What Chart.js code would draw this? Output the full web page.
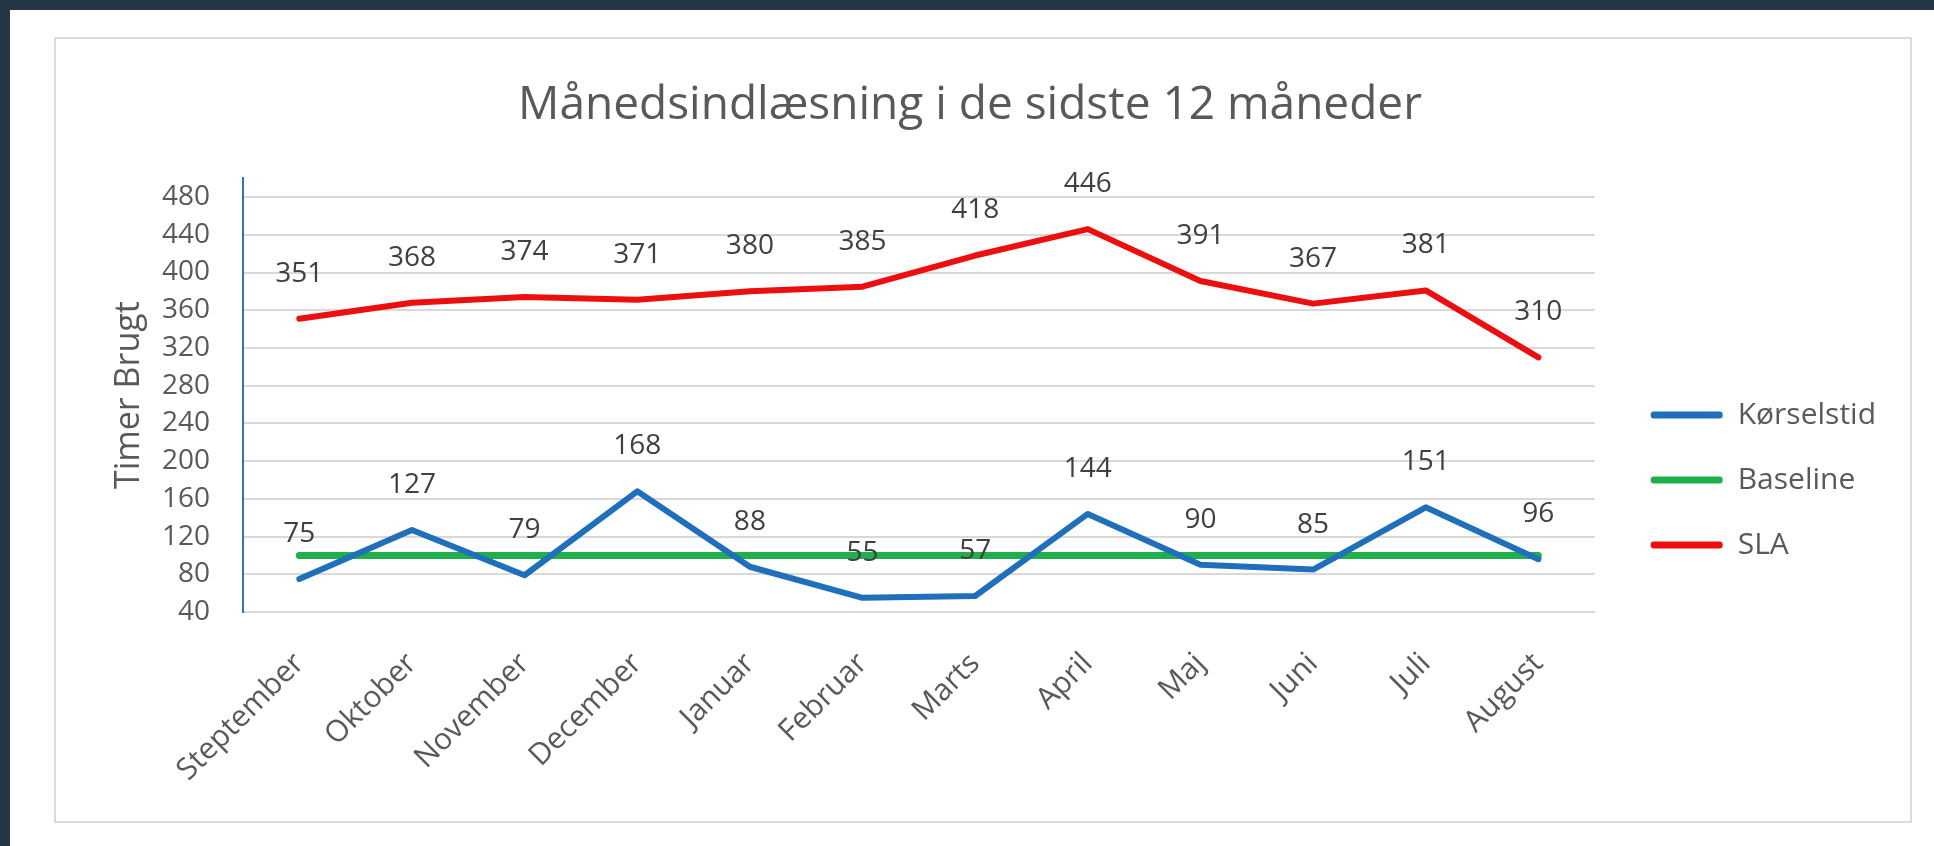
<!DOCTYPE html>
<html lang="da">
<head>
<meta charset="utf-8">
<title>Månedsindlæsning</title>
<script src="https://cdn.jsdelivr.net/npm/chart.js@4.4.1/dist/chart.umd.min.js"></script>
<style>
    html, body { margin: 0; padding: 0; }
    body { width: 1934px; height: 846px; background: #253646; position: relative; overflow: hidden; }
    #sheet { position: absolute; left: 10px; top: 10px; right: 0; bottom: 0; background: #fff; }
    #frame { position: absolute; left: 54px; top: 37px; width: 1858px; height: 786px; box-sizing: border-box; border: 2px solid #dadada; }
    #chartWrap { position: absolute; left: 54px; top: 37px; width: 1858px; height: 786px; }
</style>
</head>
<body>
<div id="sheet"></div>
<div id="frame"></div>
<div id="chartWrap"><canvas id="loadChart" width="1858" height="786"></canvas></div>
<script>
// Data
const months = ['Steptember', 'Oktober', 'November', 'December', 'Januar', 'Februar',
                'Marts', 'April', 'Maj', 'Juni', 'Juli', 'August'];
const koerselstid = [75, 127, 79, 168, 88, 55, 57, 144, 90, 85, 151, 96];
const baseline = [100, 100, 100, 100, 100, 100, 100, 100, 100, 100, 100, 100];
const sla = [351, 368, 374, 371, 380, 385, 418, 446, 391, 367, 381, 310];
const yTicks = [40, 80, 120, 160, 200, 240, 280, 320, 360, 400, 440, 480];

const textGrey = '#595959';
Chart.defaults.font.family = "'Open Sans', sans-serif";

// Value labels above the points (Excel style data labels)
const valueLabels = {
    id: 'valueLabels',
    afterDatasetsDraw(chart, args, opts) {
        const ctx = chart.ctx;
        ctx.save();
        ctx.font = opts.font;
        ctx.fillStyle = opts.color;
        ctx.textAlign = 'center';
        ctx.textBaseline = 'middle';
        chart.data.datasets.forEach((ds, i) => {
            if (!ds.showValues) return;
            chart.getDatasetMeta(i).data.forEach((pt, j) => {
                ctx.fillText(ds.data[j], pt.x, pt.y - opts.offset);
            });
        });
        ctx.restore();
    }
};

new Chart(document.getElementById('loadChart'), {
    type: 'line',
    data: {
        labels: months,
        datasets: [
            {
                label: 'Kørselstid',
                data: koerselstid,
                borderColor: '#1f6fbb',
                backgroundColor: '#1f6fbb',
                showValues: true
            },
            {
                label: 'Baseline',
                data: baseline,
                borderColor: '#1fb04b',
                backgroundColor: '#1fb04b',
                borderWidth: 7
            },
            {
                label: 'SLA',
                data: sla,
                borderColor: '#ec0f0f',
                backgroundColor: '#ec0f0f',
                showValues: true
            }
        ]
    },
    options: {
        responsive: false,
        animation: false,
        devicePixelRatio: 1,
        layout: {
            padding: { right: 26, bottom: 40 }
        },
        elements: {
            line: { borderWidth: 6, tension: 0, borderCapStyle: 'round', borderJoinStyle: 'round' },
            point: { radius: 0, hoverRadius: 0 }
        },
        scales: {
            x: {
                offset: true,
                afterFit(scale) { scale.height = 171; },
                grid: { display: false, drawTicks: false },
                border: { color: '#d9d9d9', width: 2 },
                ticks: {
                    color: textGrey,
                    font: { size: 30 },
                    minRotation: 45,
                    maxRotation: 45,
                    autoSkip: false,
                    padding: 34
                }
            },
            y: {
                min: 40,
                max: 500,
                afterBuildTicks(scale) { scale.ticks = yTicks.map(v => ({ value: v })); },
                afterFit(scale) { scale.width = 189; },
                grid: { color: '#d9d9d9', lineWidth: 2, drawTicks: false },
                border: { color: '#2e75b6', width: 2 },
                ticks: { color: textGrey, font: { size: 28 }, padding: 33 },
                title: {
                    display: true,
                    text: 'Timer Brugt',
                    color: textGrey,
                    font: { size: 34 },
                    padding: { top: 55 }
                }
            },
            // empty strip between plot and legend
            gap: {
                type: 'linear',
                position: 'right',
                grid: { display: false },
                border: { display: false },
                ticks: { display: false },
                afterFit(scale) { scale.width = 21; }
            }
        },
        plugins: {
            title: {
                display: true,
                text: 'Månedsindlæsning i de sidste 12 måneder',
                color: textGrey,
                font: { size: 46, weight: 'normal', lineHeight: 1.2 },
                padding: { top: 41, bottom: 45 }
            },
            legend: {
                position: 'right',
                // blank title only pushes the entries down to line up with the plot
                title: { display: true, text: ' ', font: { size: 10, lineHeight: 1 }, padding: { top: 130, bottom: 0 } },
                labels: {
                    boxWidth: 72,
                    boxHeight: 7,
                    padding: 35,
                    color: textGrey,
                    font: { size: 30 },
                    useBorderRadius: true,
                    borderRadius: 3,
                    generateLabels(chart) {
                        return Chart.defaults.plugins.legend.labels.generateLabels(chart)
                            .map(item => Object.assign(item, { lineWidth: 0 }));
                    }
                }
            },
            tooltip: { enabled: false },
            valueLabels: {
                offset: 45,
                color: '#404040',
                font: "28px 'Open Sans', sans-serif"
            }
        }
    },
    plugins: [valueLabels]
});
</script>
</body>
</html>
